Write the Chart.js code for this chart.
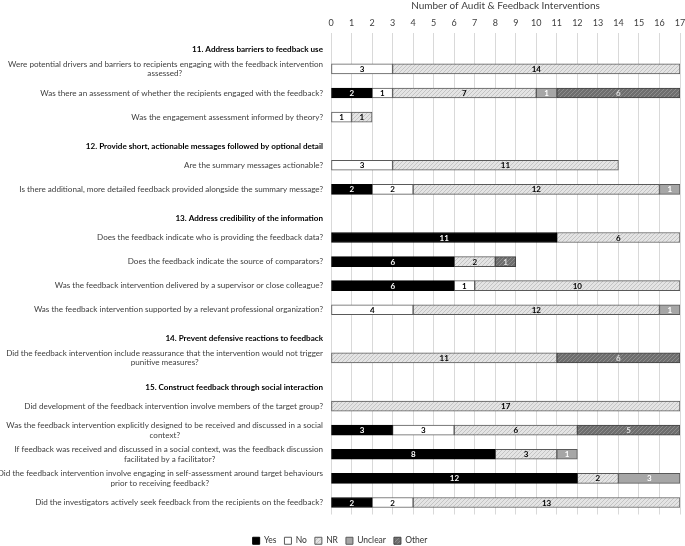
<!DOCTYPE html>
<html>
<head>
<meta charset="UTF-8">
<script src="https://cdn.jsdelivr.net/npm/chart.js@4.4.0/dist/chart.umd.min.js"></script>
<style>
body{margin:0;background:#fff}
#wrap{width:685px;height:546px}
</style>
</head>
<body>
<div id="wrap"><canvas id="chart"></canvas></div>
<script>
// rows of the chart, section headers have no bars
var labels = [
  '11. Address barriers to feedback use',
  ['Were potential drivers and barriers to recipients engaging with the feedback intervention', 'assessed?'],
  'Was there an assessment of whether the recipients engaged with the feedback?',
  'Was the engagement assessment informed by theory?',
  '12. Provide short, actionable messages followed by optional detail',
  'Are the summary messages actionable?',
  'Is there additional, more detailed feedback provided alongside the summary message?',
  '13. Address credibility of the information',
  'Does the feedback indicate who is providing the feedback data?',
  'Does the feedback indicate the source of comparators?',
  'Was the feedback intervention delivered by a supervisor or close colleague?',
  'Was the feedback intervention supported by a relevant professional organization?',
  '14. Prevent defensive reactions to feedback',
  ['Did the feedback intervention include reassurance that the intervention would not trigger', 'punitive measures?'],
  '15. Construct feedback through social interaction',
  'Did development of the feedback intervention involve members of the target group?',
  ['Was the feedback intervention explicitly designed to be received and discussed in a social', 'context?'],
  ['If feedback was received and discussed in a social context, was the feedback discussion', 'facilitated by a facilitator?'],
  ['Did the feedback intervention involve engaging in self-assessment around target behaviours', 'prior to receiving feedback?'],
  'Did the investigators actively seek feedback from the recipients on the feedback?'
];
var headerRows = [0, 4, 7, 12, 14];

var yesData     = [null, null, 2, null, null, null, 2, null, 11, 6, 6, null, null, null, null, null, 3, 8, 12, 2];
var noData      = [null, 3, 1, 1, null, 3, 2, null, null, null, 1, 4, null, null, null, null, 3, null, null, 2];
var nrData      = [null, 14, 7, 1, null, 11, 12, null, 6, 2, 10, 12, null, 11, null, 17, 6, 3, 2, 13];
var unclearData = [null, null, 1, null, null, null, 1, null, null, null, null, 1, null, null, null, null, null, 1, 3, null];
var otherData   = [null, null, 6, null, null, null, null, null, null, 1, null, null, null, 6, null, null, 5, null, null, null];

var xTicks = [0, 17];
var axisTitle = 'Number of Audit & Feedback Interventions';

var FONT = 'Lato';
var LSIZE = 8.1;
var labelFont = LSIZE + 'px ' + FONT;

// pad second line so it sits centred under the first one
var mctx = document.createElement('canvas').getContext('2d');
function fixLabel(lbl, i) {
  if (headerRows.indexOf(i) >= 0) return ['', lbl];
  if (!Array.isArray(lbl)) return lbl;
  mctx.font = labelFont;
  var w0 = mctx.measureText(lbl[0]).width;
  var w1 = mctx.measureText(lbl[1]).width;
  var sp = mctx.measureText('\u00a0').width;
  var n = Math.max(0, Math.round((w0 - w1) / 2 / sp));
  return [lbl[0], lbl[1] + '\u00a0'.repeat(n)];
}
var tickLabels = labels.map(fixLabel);

function makePattern(bg, fg, kind) {
  var c = document.createElement('canvas');
  c.width = c.height = 4;
  var x = c.getContext('2d');
  x.fillStyle = bg; x.fillRect(0, 0, 4, 4);
  x.fillStyle = fg;
  if (kind == 'diag') {
    x.fillRect(0, 3, 1, 1); x.fillRect(1, 2, 1, 1); x.fillRect(2, 1, 1, 1); x.fillRect(3, 0, 1, 1);
  } else {
    x.fillRect(0, 0, 1, 1); x.fillRect(2, 2, 1, 1); x.fillRect(1, 3, 1, 1); x.fillRect(3, 1, 1, 1);
  }
  return x.createPattern(c, 'repeat');
}

var valueLabels = {
  id: 'valueLabels',
  afterDatasetsDraw: function(chart) {
    var ctx = chart.ctx;
    ctx.save();
    ctx.font = 'bold 8px ' + FONT;
    ctx.textAlign = 'center';
    ctx.textBaseline = 'middle';
    chart.data.datasets.forEach(function(ds, i) {
      chart.getDatasetMeta(i).data.forEach(function(bar, j) {
        var v = ds.data[j];
        if (v == null) return;
        var p = bar.getProps(['x', 'y', 'base'], true);
        ctx.fillStyle = ds.labelColor;
        ctx.fillText(v, (p.x + p.base) / 2, p.y + 0.5);
      });
    });
    ctx.restore();
  }
};

function ds(label, data, bg, border, labelColor) {
  return {
    label: label, data: data, backgroundColor: bg, borderColor: border,
    borderWidth: 1, borderSkipped: false, barThickness: 10, labelColor: labelColor
  };
}

new Chart(document.getElementById('chart'), {
  type: 'bar',
  data: {
    labels: tickLabels,
    datasets: [
      ds('Yes', yesData, '#000000', '#000000', '#ffffff'),
      ds('No', noData, '#ffffff', '#595959', '#000000'),
      ds('NR', nrData, makePattern('#e4e4e4', '#c4c4c4', 'diag'), '#595959', '#000000'),
      ds('Unclear', unclearData, '#a6a6a6', '#595959', '#ffffff'),
      ds('Other', otherData, makePattern('#6e6e6e', '#8c8c8c', 'dots'), '#404040', '#e0e0e0')
    ]
  },
  options: {
    indexAxis: 'y',
    responsive: true,
    maintainAspectRatio: false,
    animation: false,
    layout: { padding: { left: 0, right: 5, top: 0, bottom: -9 } },
    plugins: {
      legend: {
        position: 'bottom',
        title: { display: true, text: ' ', padding: { top: 0, bottom: 2 }, font: { size: 10 } },
        labels: { boxWidth: 7, boxHeight: 7, padding: 8, color: '#333', font: { family: FONT, size: 8.5 } }
      },
      tooltip: { enabled: false }
    },
    scales: {
      x: {
        position: 'top',
        stacked: true,
        min: xTicks[0],
        max: xTicks[1],
        afterFit: function(scale) { scale.paddingRight = 0; },
        ticks: { stepSize: 1, padding: 4, color: '#404040', font: { family: FONT, size: 9 } },
        grid: { color: '#d9d9d9', drawTicks: false },
        border: { display: false },
        title: { display: true, text: axisTitle, color: '#404040', padding: { top: 0, bottom: 2 }, font: { family: FONT, size: 10 } }
      },
      y: {
        stacked: true,
        grid: { display: false, drawTicks: false },
        border: { display: false },
        afterFit: function(scale) { scale.width = 331; },
        ticks: {
          autoSkip: false,
          padding: 8,
          color: function(c) { return headerRows.indexOf(c.index) >= 0 ? '#000' : '#404040'; },
          font: function(c) {
            return headerRows.indexOf(c.index) >= 0
              ? { family: FONT, size: LSIZE, weight: 'bold' }
              : { family: FONT, size: LSIZE };
          }
        }
      }
    }
  },
  plugins: [valueLabels]
});
</script>
</body>
</html>
